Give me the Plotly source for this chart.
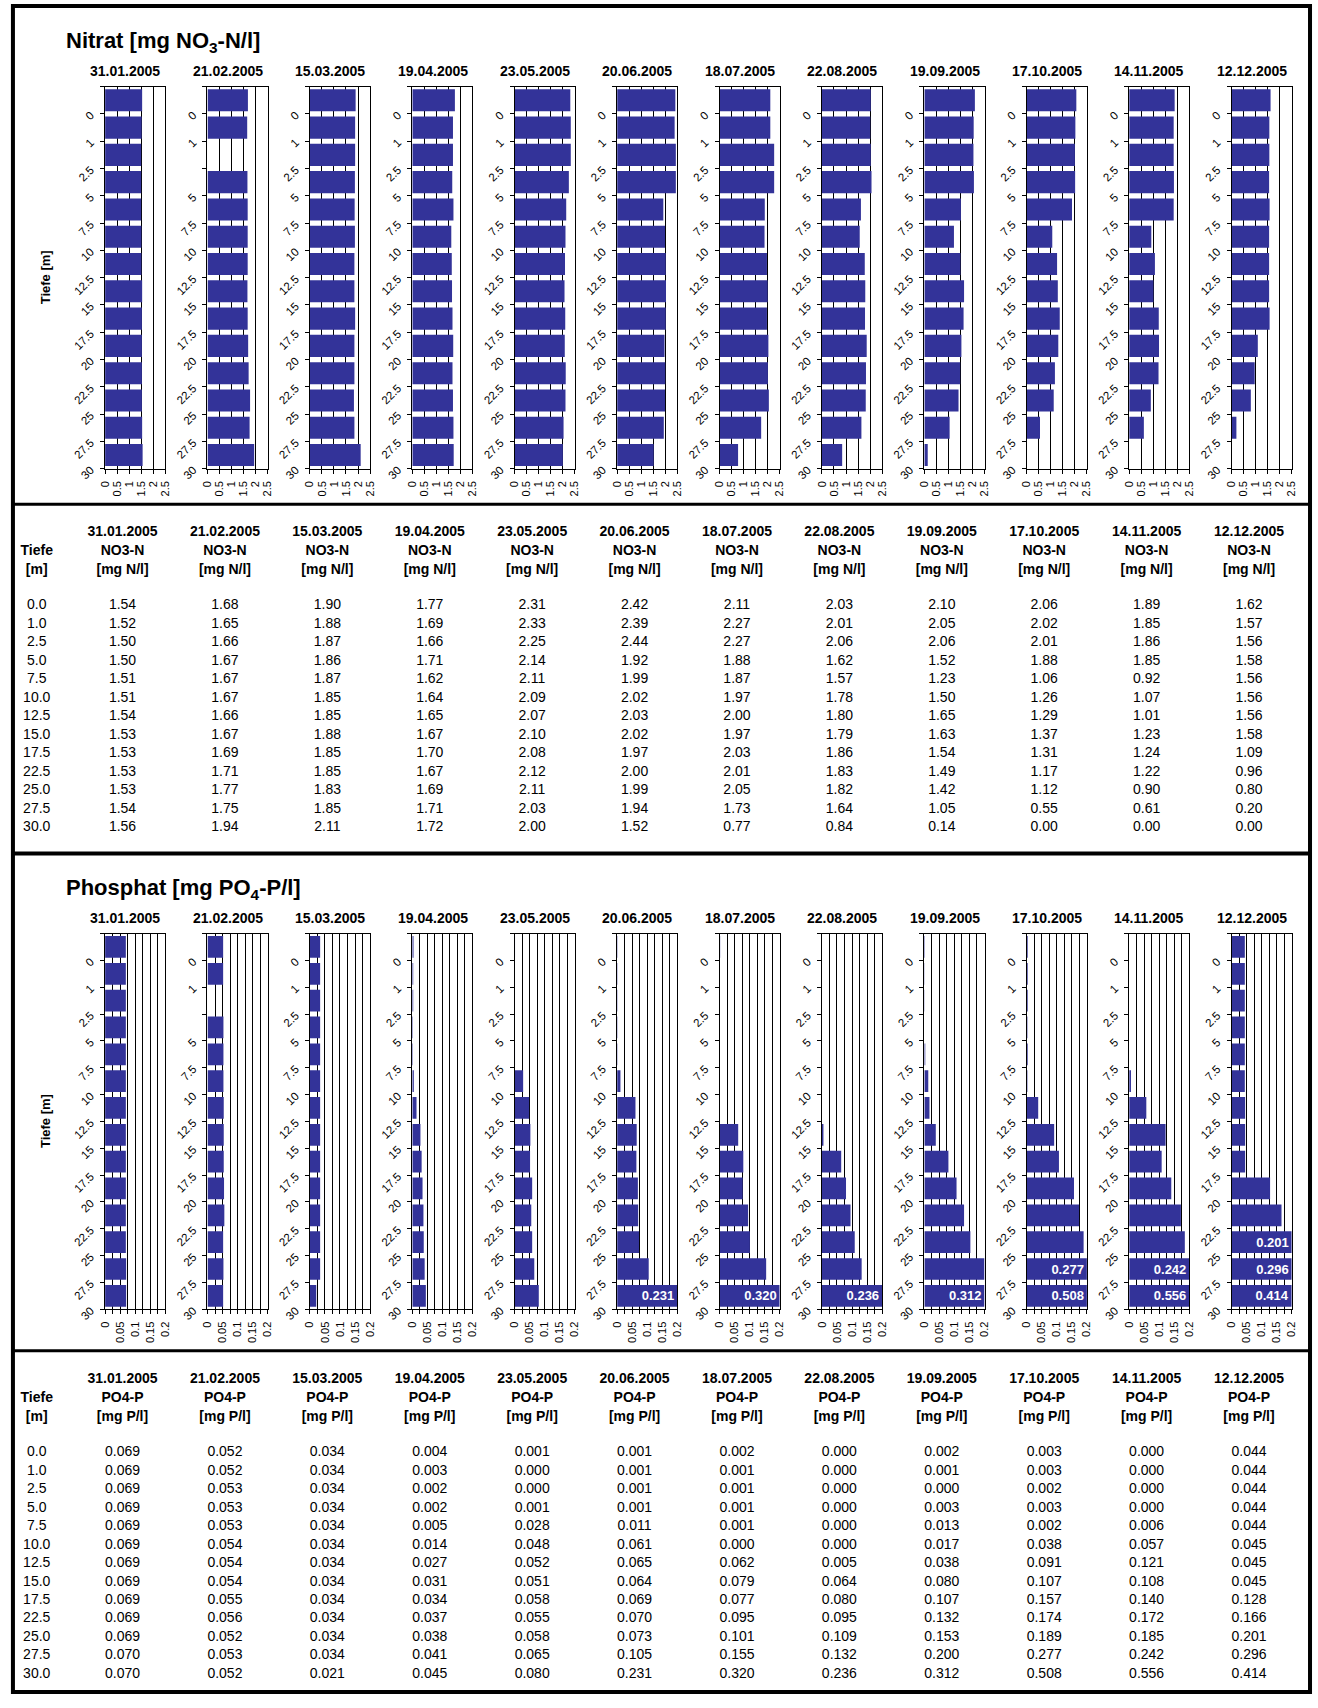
import plotly.graph_objects as go

# ---------------- data ----------------
DATES = ["31.01.2005", "21.02.2005", "15.03.2005", "19.04.2005", "23.05.2005", "20.06.2005",
         "18.07.2005", "22.08.2005", "19.09.2005", "17.10.2005", "14.11.2005", "12.12.2005"]

# depth categories of the bar charts (14 per chart)
CHART_DEPTHS = ["0", "1", "2.5", "5", "7.5", "10", "12.5", "15", "17.5", "20", "22.5", "25", "27.5", "30"]
# depths of the tables (13 rows)
TABLE_DEPTHS = [0.0, 1.0, 2.5, 5.0, 7.5, 10.0, 12.5, 15.0, 17.5, 22.5, 25.0, 27.5, 30.0]

# Nitrate bar values per date (mg NO3-N/l)
NO3_CHART = [
    [1.54, 1.52, 1.50, 1.50, 1.50, 1.51, 1.51, 1.54, 1.53, 1.53, 1.53, 1.53, 1.54, 1.56],
    [1.68, 1.65, None, 1.66, 1.67, 1.67, 1.67, 1.66, 1.67, 1.69, 1.71, 1.77, 1.75, 1.94],
    [1.90, 1.88, 1.88, 1.87, 1.86, 1.87, 1.85, 1.85, 1.88, 1.85, 1.85, 1.83, 1.85, 2.11],
    [1.77, 1.69, 1.69, 1.66, 1.71, 1.62, 1.64, 1.65, 1.67, 1.70, 1.67, 1.69, 1.71, 1.72],
    [2.31, 2.33, 2.33, 2.25, 2.14, 2.11, 2.09, 2.07, 2.10, 2.08, 2.12, 2.11, 2.03, 2.00],
    [2.42, 2.39, 2.44, 2.44, 1.92, 1.99, 2.02, 2.03, 2.02, 1.97, 2.00, 1.99, 1.94, 1.52],
    [2.11, 2.11, 2.27, 2.27, 1.88, 1.87, 1.97, 2.00, 1.97, 2.03, 2.01, 2.05, 1.73, 0.77],
    [2.03, 2.01, 2.03, 2.06, 1.62, 1.57, 1.78, 1.80, 1.79, 1.86, 1.83, 1.82, 1.64, 0.84],
    [2.10, 2.05, 2.04, 2.06, 1.52, 1.23, 1.50, 1.65, 1.63, 1.54, 1.49, 1.42, 1.05, 0.14],
    [2.06, 2.02, 2.00, 2.01, 1.88, 1.06, 1.26, 1.29, 1.37, 1.31, 1.17, 1.12, 0.55, 0.00],
    [1.89, 1.85, 1.85, 1.86, 1.85, 0.92, 1.07, 1.01, 1.23, 1.24, 1.22, 0.90, 0.61, 0.00],
    [1.62, 1.57, 1.57, 1.56, 1.58, 1.56, 1.56, 1.56, 1.58, 1.09, 0.96, 0.80, 0.20, 0.00],
]

# Phosphate bar values per date (mg PO4-P/l)
PO4_CHART = [
    [0.069, 0.069, 0.069, 0.069, 0.069, 0.069, 0.069, 0.069, 0.069, 0.069, 0.069, 0.069, 0.070, 0.070],
    [0.052, 0.052, None, 0.053, 0.053, 0.053, 0.054, 0.054, 0.054, 0.055, 0.056, 0.052, 0.053, 0.052],
    [0.034, 0.034, 0.034, 0.034, 0.034, 0.034, 0.034, 0.034, 0.034, 0.034, 0.034, 0.034, 0.034, 0.021],
    [0.004, 0.003, 0.003, 0.002, 0.002, 0.005, 0.014, 0.027, 0.031, 0.034, 0.037, 0.038, 0.041, 0.045],
    [0.001, 0.000, 0.000, 0.000, 0.001, 0.028, 0.048, 0.052, 0.051, 0.058, 0.055, 0.058, 0.065, 0.080],
    [0.001, 0.001, 0.001, 0.001, 0.001, 0.011, 0.061, 0.065, 0.064, 0.069, 0.070, 0.073, 0.105, 0.231],
    [0.002, 0.001, 0.001, 0.001, 0.001, 0.001, 0.000, 0.062, 0.079, 0.077, 0.095, 0.101, 0.155, 0.320],
    [0.000, 0.000, 0.000, 0.000, 0.000, 0.000, 0.000, 0.005, 0.064, 0.080, 0.095, 0.109, 0.132, 0.236],
    [0.002, 0.001, 0.001, 0.000, 0.003, 0.013, 0.017, 0.038, 0.080, 0.107, 0.132, 0.153, 0.200, 0.312],
    [0.003, 0.003, 0.003, 0.002, 0.003, 0.002, 0.038, 0.091, 0.107, 0.157, 0.174, 0.189, 0.277, 0.508],
    [0.000, 0.000, 0.000, 0.000, 0.000, 0.006, 0.057, 0.121, 0.108, 0.140, 0.172, 0.185, 0.242, 0.556],
    [0.044, 0.044, 0.044, 0.044, 0.044, 0.044, 0.045, 0.045, 0.045, 0.128, 0.166, 0.201, 0.296, 0.414],
]

# Table values (13 rows per date)
NO3_TABLE = [
    [1.54, 1.52, 1.50, 1.50, 1.51, 1.51, 1.54, 1.53, 1.53, 1.53, 1.53, 1.54, 1.56],
    [1.68, 1.65, 1.66, 1.67, 1.67, 1.67, 1.66, 1.67, 1.69, 1.71, 1.77, 1.75, 1.94],
    [1.90, 1.88, 1.87, 1.86, 1.87, 1.85, 1.85, 1.88, 1.85, 1.85, 1.83, 1.85, 2.11],
    [1.77, 1.69, 1.66, 1.71, 1.62, 1.64, 1.65, 1.67, 1.70, 1.67, 1.69, 1.71, 1.72],
    [2.31, 2.33, 2.25, 2.14, 2.11, 2.09, 2.07, 2.10, 2.08, 2.12, 2.11, 2.03, 2.00],
    [2.42, 2.39, 2.44, 1.92, 1.99, 2.02, 2.03, 2.02, 1.97, 2.00, 1.99, 1.94, 1.52],
    [2.11, 2.27, 2.27, 1.88, 1.87, 1.97, 2.00, 1.97, 2.03, 2.01, 2.05, 1.73, 0.77],
    [2.03, 2.01, 2.06, 1.62, 1.57, 1.78, 1.80, 1.79, 1.86, 1.83, 1.82, 1.64, 0.84],
    [2.10, 2.05, 2.06, 1.52, 1.23, 1.50, 1.65, 1.63, 1.54, 1.49, 1.42, 1.05, 0.14],
    [2.06, 2.02, 2.01, 1.88, 1.06, 1.26, 1.29, 1.37, 1.31, 1.17, 1.12, 0.55, 0.00],
    [1.89, 1.85, 1.86, 1.85, 0.92, 1.07, 1.01, 1.23, 1.24, 1.22, 0.90, 0.61, 0.00],
    [1.62, 1.57, 1.56, 1.58, 1.56, 1.56, 1.56, 1.58, 1.09, 0.96, 0.80, 0.20, 0.00],
]
PO4_TABLE = [
    [0.069, 0.069, 0.069, 0.069, 0.069, 0.069, 0.069, 0.069, 0.069, 0.069, 0.069, 0.070, 0.070],
    [0.052, 0.052, 0.053, 0.053, 0.053, 0.054, 0.054, 0.054, 0.055, 0.056, 0.052, 0.053, 0.052],
    [0.034, 0.034, 0.034, 0.034, 0.034, 0.034, 0.034, 0.034, 0.034, 0.034, 0.034, 0.034, 0.021],
    [0.004, 0.003, 0.002, 0.002, 0.005, 0.014, 0.027, 0.031, 0.034, 0.037, 0.038, 0.041, 0.045],
    [0.001, 0.000, 0.000, 0.001, 0.028, 0.048, 0.052, 0.051, 0.058, 0.055, 0.058, 0.065, 0.080],
    [0.001, 0.001, 0.001, 0.001, 0.011, 0.061, 0.065, 0.064, 0.069, 0.070, 0.073, 0.105, 0.231],
    [0.002, 0.001, 0.001, 0.001, 0.001, 0.000, 0.062, 0.079, 0.077, 0.095, 0.101, 0.155, 0.320],
    [0.000, 0.000, 0.000, 0.000, 0.000, 0.000, 0.005, 0.064, 0.080, 0.095, 0.109, 0.132, 0.236],
    [0.002, 0.001, 0.000, 0.003, 0.013, 0.017, 0.038, 0.080, 0.107, 0.132, 0.153, 0.200, 0.312],
    [0.003, 0.003, 0.002, 0.003, 0.002, 0.038, 0.091, 0.107, 0.157, 0.174, 0.189, 0.277, 0.508],
    [0.000, 0.000, 0.000, 0.000, 0.006, 0.057, 0.121, 0.108, 0.140, 0.172, 0.185, 0.242, 0.556],
    [0.044, 0.044, 0.044, 0.044, 0.044, 0.045, 0.045, 0.045, 0.128, 0.166, 0.201, 0.296, 0.414],
]

NO3_MAX = 2.5
PO4_MAX = 0.2

# ---------------- layout constants (pixels) ----------------
W, H = 1318, 1708
FONT = "Liberation Sans, Arial, sans-serif"
BAR = "#333399"
PLOT_LEFT0 = 100.0
PLOT_W = 60.7
PITCH = 103.35
SECTIONS = [  # (top, bottom) of the plot areas
    (87.3, 472.3),
    (940.7, 1319.3),
]
SHIFT = 853.4  # vertical offset of the phosphate block


def px_x(p):
    return p / W


def px_y(p):
    return 1 - p / H


fig = go.Figure()
layout = dict(
    width=W, height=H, margin=dict(l=0, r=0, t=0, b=0),
    paper_bgcolor="white", plot_bgcolor="rgba(0,0,0,0)",
    showlegend=False, bargap=0.19, hovermode=False,
    font=dict(family=FONT, color="black", size=12),
)

annotations = []
ax = 0
for s, (data, xmax, major, minor) in enumerate([
        (NO3_CHART, NO3_MAX, 0.5, None),
        (PO4_CHART, PO4_MAX, 0.05, 0.025)]):
    top, bot = SECTIONS[s]
    for k, vals in enumerate(data):
        ax += 1
        xname = "x" if ax == 1 else f"x{ax}"
        yname = "y" if ax == 1 else f"y{ax}"
        shown = [None if v is None else min(v, xmax) for v in vals]
        texts = ["" if (v is None or v <= xmax) else f"<b>{v:.3f}</b>" for v in vals]
        fig.add_trace(go.Bar(
            x=shown, y=list(range(len(vals))), orientation="h",
            marker=dict(color=BAR, line=dict(width=0)),
            text=texts, textposition="inside", insidetextanchor="end",
            textfont=dict(color="white", size=13, family=FONT),
            constraintext="none", cliponaxis=True,
            xaxis=xname, yaxis=yname,
        ))
        x0 = PLOT_LEFT0 + PITCH * k
        ticktext = [""] + [("" if vals[i] is None else lab) for i, lab in enumerate(CHART_DEPTHS)]
        xa = dict(
            domain=[px_x(x0), px_x(x0 + PLOT_W)], range=[0, xmax],
            anchor=yname, dtick=major, tick0=0,
            showgrid=True, gridcolor="black", gridwidth=1,
            showline=True, linecolor="black", linewidth=1, mirror=True,
            ticks="outside", ticklen=4, tickcolor="black",
            tickangle=-90, tickfont=dict(size=11, family=FONT),
            ticklabelstandoff=3,
            zeroline=False, fixedrange=True,
        )
        if minor:
            xa["minor"] = dict(dtick=minor, showgrid=True, gridcolor="black",
                               gridwidth=1, ticks="outside", ticklen=4, tickcolor="black")
        ya = dict(
            domain=[px_y(bot), px_y(top)], range=[len(vals) - 0.5, -0.5],
            anchor=xname,
            tickmode="array", tickvals=[i - 0.5 for i in range(len(vals) + 1)],
            ticktext=ticktext, tickangle=-45, tickfont=dict(size=11.5, family=FONT),
            ticklabelstandoff=7,
            showgrid=False, zeroline=False,
            showline=True, linecolor="black", linewidth=1, mirror=True,
            ticks="outside", ticklen=4, tickcolor="black", fixedrange=True,
        )
        layout["xaxis" if ax == 1 else f"xaxis{ax}"] = xa
        layout["yaxis" if ax == 1 else f"yaxis{ax}"] = ya
        # date title above each chart
        annotations.append(dict(
            x=px_x(x0 + 20.5), y=px_y(top - 15.3), xref="paper", yref="paper",
            text=f"<b>{DATES[k]}</b>", showarrow=False, xanchor="center", yanchor="middle",
            font=dict(size=14, family=FONT)))
    annotations.append(dict(
        x=px_x(40), y=px_y((top + bot) / 2), xref="paper", yref="paper",
        text="<b>Tiefe [m]</b>", textangle=-90, showarrow=False,
        xanchor="center", yanchor="middle", font=dict(size=13, family=FONT)))

annotations.append(dict(x=px_x(59), y=px_y(42), xref="paper", yref="paper",
                        text="<b>Nitrat [mg NO<sub>3</sub>-N/l]</b>", showarrow=False,
                        xanchor="left", yanchor="middle", font=dict(size=22, family=FONT)))
annotations.append(dict(x=px_x(59), y=px_y(42 + SHIFT), xref="paper", yref="paper",
                        text="<b>Phosphat [mg PO<sub>4</sub>-P/l]</b>", showarrow=False,
                        xanchor="left", yanchor="middle", font=dict(size=22, family=FONT)))

# ---------------- tables (text traces on a pixel-scaled overlay axis) ----------------
TAB = ax + 1
layout[f"xaxis{TAB}"] = dict(domain=[0, 1], range=[0, W], visible=False, fixedrange=True)
layout[f"yaxis{TAB}"] = dict(domain=[0, 1], range=[H, 0], visible=False, fixedrange=True)
COL0_X = 31.0
COL1_X = 117.6
HEAD_Y = [536.6, 555.6, 574.6]
ROW0_Y = 610.6
ROW_PITCH = 18.6

for s, (table, name, unit, fmt) in enumerate([
        (NO3_TABLE, "NO3-N", "[mg N/l]", "{:.2f}"),
        (PO4_TABLE, "PO4-P", "[mg P/l]", "{:.3f}")]):
    dy = SHIFT * s
    cols_x = [COL1_X + PITCH * k for k in range(len(DATES))]
    # header
    hx, hy, ht = [], [], []
    for k, d in enumerate(DATES):
        for j, t in enumerate([d, name, unit]):
            hx.append(cols_x[k]); hy.append(HEAD_Y[j] + dy); ht.append(f"<b>{t}</b>")
    for j, t in [(1, "Tiefe"), (2, "[m]")]:
        hx.append(COL0_X); hy.append(HEAD_Y[j] + dy); ht.append(f"<b>{t}</b>")
    fig.add_trace(go.Scatter(x=hx, y=hy, text=ht, mode="text", textposition="middle center",
                             textfont=dict(size=14, family=FONT, color="black"),
                             xaxis=f"x{TAB}", yaxis=f"y{TAB}", hoverinfo="skip"))
    # body
    bx, by, bt = [], [], []
    for i, dep in enumerate(TABLE_DEPTHS):
        bx.append(COL0_X); by.append(ROW0_Y + ROW_PITCH * i + dy); bt.append(f"{dep:.1f}")
        for k in range(len(DATES)):
            bx.append(cols_x[k]); by.append(ROW0_Y + ROW_PITCH * i + dy)
            bt.append(fmt.format(table[k][i]))
    fig.add_trace(go.Scatter(x=bx, y=by, text=bt, mode="text", textposition="middle center",
                             textfont=dict(size=14, family=FONT, color="black"),
                             xaxis=f"x{TAB}", yaxis=f"y{TAB}", hoverinfo="skip"))

# ---------------- frame and separators ----------------
shapes = [
    dict(type="rect", xref="paper", yref="paper", x0=px_x(7), x1=px_x(1316), y0=px_y(1705), y1=px_y(6),
         line=dict(color="black", width=4), fillcolor="rgba(0,0,0,0)", layer="above"),
    dict(type="line", xref="paper", yref="paper", x0=px_x(7), x1=px_x(1316), y0=px_y(508), y1=px_y(508),
         line=dict(color="black", width=3), layer="above"),
    dict(type="line", xref="paper", yref="paper", x0=px_x(7), x1=px_x(1316), y0=px_y(860), y1=px_y(860),
         line=dict(color="black", width=4), layer="above"),
    dict(type="line", xref="paper", yref="paper", x0=px_x(7), x1=px_x(1316), y0=px_y(1361), y1=px_y(1361),
         line=dict(color="black", width=3), layer="above"),
]
layout["shapes"] = shapes
layout["annotations"] = annotations
fig.update_layout(**layout)

fig.write_html(
    "out.html",
    config={"displayModeBar": False, "staticPlot": True},
    post_script=("document.documentElement.style.margin='0px';"
                 "document.body.style.margin='0px';"
                 "document.documentElement.style.overflow='hidden';"
                 "document.body.style.overflow='hidden';"),
)
